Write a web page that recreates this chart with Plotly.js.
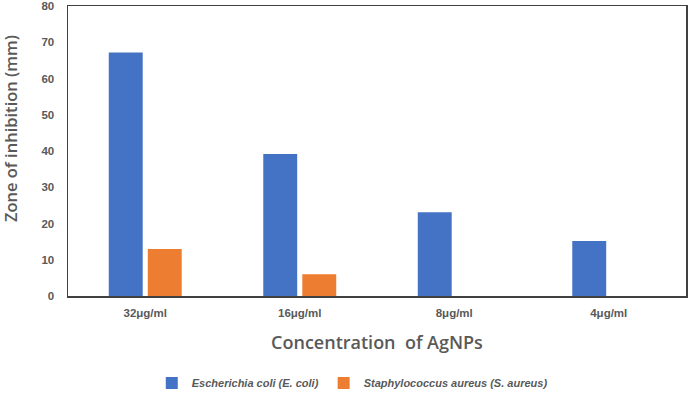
<!DOCTYPE html>
<html>
<head>
<meta charset="utf-8">
<script src="https://cdn.plot.ly/plotly-3.0.1.min.js"></script>
<style>
  html, body { margin: 0; padding: 0; background: #fff; }
  #chart { width: 692px; height: 403px; }
</style>
</head>
<body>
<div id="chart"></div>
<script>
// Zone of inhibition by AgNP concentration
const concentrations = ["32μg/ml", "16μg/ml", "8μg/ml", "4μg/ml"];
const eColi   = [67.2, 39.2, 23.1, 15.2];
const sAureus = [13, 6, 0, 0];
const yTicks  = [0, 10, 20, 30, 40, 50, 60, 70, 80];

const axisGray = "#595959";
const frame    = "#404040";
const tickFont = { family: "Liberation Sans, Arial", size: 11.5, color: axisGray, weight: "bold" };

const data = [
  {
    type: "bar", name: "Escherichia coli (E. coli)",
    x: concentrations, y: eColi,
    marker: { color: "#4472C4" },
  },
  {
    type: "bar", name: "Staphylococcus aureus (S. aureus)",
    x: concentrations, y: sAureus,
    marker: { color: "#ED7D31" },
  },
];

const layout = {
  width: 692, height: 403,
  paper_bgcolor: "#fff", plot_bgcolor: "#fff",
  margin: { l: 68, r: 6, t: 6, b: 107 },
  barmode: "group",
  bargap: 0.495,
  bargroupgap: 0.13,
  font: { family: "Open Sans, sans-serif", color: axisGray },
  xaxis: {
    showline: true, mirror: true, linecolor: frame, linewidth: 1.5,
    showgrid: false, ticks: "", ticklabelstandoff: 6,
    tickfont: tickFont,
    title: { text: "Concentration  of AgNPs", font: { size: 18, color: axisGray, weight: 600 }, standoff: 18 },
  },
  yaxis: {
    range: [0, 80], tickvals: yTicks,
    showline: true, mirror: true, linecolor: frame, linewidth: 1.5,
    showgrid: false, zeroline: false, ticks: "", ticklabelstandoff: 10,
    ticklabeloverflow: "allow",
    tickfont: tickFont,
  },
  annotations: [{
    text: "Zone of inhibition (mm)", textangle: -90,
    xref: "paper", yref: "paper", x: -0.092, y: 0.576,
    xanchor: "center", yanchor: "middle", showarrow: false,
    font: { family: "Open Sans, sans-serif", size: 16.5, color: axisGray, weight: 600 },
  }],
  showlegend: true,
  legend: {
    orientation: "h", x: 0.46, xanchor: "center", y: -0.3, yanchor: "middle",
    font: { family: "Liberation Sans, Arial", size: 11, color: axisGray, style: "italic", weight: "bold" },
    itemwidth: 30,
  },
};

Plotly.newPlot("chart", data, layout, { displayModeBar: false, staticPlot: true });
</script>
</body>
</html>
